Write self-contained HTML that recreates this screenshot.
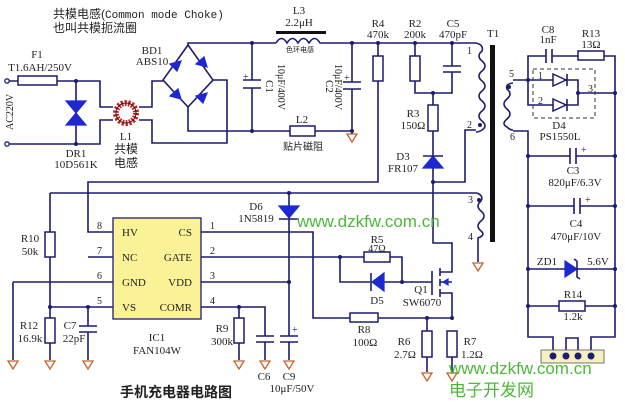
<!DOCTYPE html>
<html><head><meta charset="utf-8"><style>
html,body{margin:0;padding:0;background:#fff;}
svg{display:block;}
text{font-family:"Liberation Serif","Noto Serif CJK SC",serif;font-size:11px;fill:#222;}
.cj{font-family:"Liberation Sans","Noto Sans CJK SC",sans-serif;}
.w{stroke:#1c1c70;stroke-width:1.6;fill:none;}
.r{stroke:#1c1c70;stroke-width:1.5;fill:#fff;}
.d{fill:#1e28d0;stroke:#1e28d0;stroke-width:1.2;}
.g{fill:none;stroke:#c8602a;stroke-width:1.3;}
.j{fill:#1c1c70;}
.wm{font-family:"Liberation Sans","Noto Sans CJK SC",sans-serif;fill:#4cb83a;}
</style></head><body>
<svg width="625" height="406" viewBox="0 0 625 406" xmlns="http://www.w3.org/2000/svg">
<defs>
<g id="gnd"><path class="g" d="M-5,0 L5,0 L0,8 Z"/></g>
</defs>
<text x="53" y="18" class="cj" style="font-size:12px">共模电感(<tspan style="font-family:'Liberation Mono',monospace;font-size:11px">Common mode Choke)</tspan></text>
<text x="53" y="32" class="cj" style="font-size:12px">也叫共模扼流圈</text>

<circle cx="7" cy="81" r="2.2" fill="#fff" stroke="#1c1c70" stroke-width="1.3"/>
<circle cx="7" cy="144" r="2.2" fill="#fff" stroke="#1c1c70" stroke-width="1.3"/>
<text transform="translate(13,130) rotate(-90)" style="font-size:10px">AC220V</text>
<path class="w" d="M9,81 H18 M57,81 H100 V107 H113 M9,144 H100 V120 H113"/>
<rect class="r" x="18" y="76" width="39" height="9"/>
<text x="37" y="58" text-anchor="middle">F1</text>
<text x="40" y="71" text-anchor="middle">T1.6AH/250V</text>
<circle class="j" cx="76" cy="81" r="2"/><circle class="j" cx="76" cy="144" r="2"/>
<path class="w" d="M76,81 V144"/>
<path class="d" d="M66,101 H86 L76,113 Z M66,125 H86 L76,113 Z"/>
<text x="76" y="157" text-anchor="middle">DR1</text>
<text x="76" y="168" text-anchor="middle">10D561K</text>
<circle cx="126" cy="113" r="10" fill="none" stroke="#c02020" stroke-width="6" stroke-dasharray="2 1.5"/>
<circle cx="126" cy="113" r="10" fill="none" stroke="#501010" stroke-width="1"/>
<text x="126" y="140" text-anchor="middle">L1</text>
<text x="126" y="153" class="cj" text-anchor="middle" style="font-size:12px">共模</text>
<text x="126" y="167" class="cj" text-anchor="middle" style="font-size:12px">电感</text>
<path class="w" d="M139,107 H152 V81 H163 M139,120 H152 V143 H227 V80 H213"/>
<path class="w" d="M188,45 L163,80 L188,107 L213,80 Z"/>
<path class="d" d="M170,64 l11,-3 l-4,10 Z M196,64 l11,3 l-3,-10 Z M170,96 l11,3 l-3,-10 Z M196,96 l11,-3 l-4,10 Z"/>
<text x="152" y="54" text-anchor="middle">BD1</text>
<text x="152" y="65" text-anchor="middle">ABS10</text>
<path class="w" d="M188,45 V43 H276 M188,107 V131 H290"/>
<circle class="j" cx="252" cy="43" r="2"/><circle class="j" cx="252" cy="131" r="2"/>
<path class="w" d="M252,43 V80 M252,88 V131"/>
<path class="w" d="M243,80 H261 M243,88 H261"/>
<text x="243" y="80" style="font-size:10px;fill:#1c1c70">+</text>
<text transform="translate(266,80) rotate(90)">C1</text>
<text transform="translate(278,64) rotate(90)" style="font-size:10px">10μF/400V</text>
<rect x="276" y="31" width="50" height="3" fill="#111"/>
<path class="w" d="M276,43 q5.5,-9 11,0 q5.5,-9 11,0 q5.5,-9 11,0 q5.5,-9 11,0 H327"/>
<text x="299" y="14" text-anchor="middle">L3</text>
<text x="299" y="26" text-anchor="middle">2.2μH</text>
<text x="300" y="52" class="cj" text-anchor="middle" style="font-size:7px">色环电感</text>
<rect class="r" x="290" y="126" width="25" height="10"/>
<text x="302" y="123" text-anchor="middle">L2</text>
<text x="303" y="150" class="cj" text-anchor="middle" style="font-size:10px">贴片磁阻</text>
<path class="w" d="M315,131 H352 M327,43 H476"/>
<circle class="j" cx="352" cy="43" r="2"/><circle class="j" cx="378" cy="43" r="2"/><circle class="j" cx="415" cy="43" r="2"/><circle class="j" cx="452" cy="43" r="2"/><circle class="j" cx="352" cy="131" r="2"/>
<path class="w" d="M352,43 V82 M352,89 V134 M343,82 H361 M343,89 H361"/>
<text x="344" y="81" style="font-size:10px;fill:#1c1c70">+</text>
<use href="#gnd" x="352" y="134"/>
<text transform="translate(326,80) rotate(90)">C2</text>
<text transform="translate(335,64) rotate(90)" style="font-size:10px">10μF/400V</text>
<path class="w" d="M378,43 V56 M378,81 V182 H88 V232 H113"/>
<rect class="r" x="373" y="56" width="10" height="25"/>
<text x="378" y="27" text-anchor="middle">R4</text>
<text x="378" y="38" text-anchor="middle">470k</text>
<path class="w" d="M415,43 V56 M415,81 V93 H452 V72 M452,66 V43 M433,93 V105 M433,131 V182 H465 V130 H476"/>
<rect class="r" x="410" y="56" width="10" height="25"/>
<path class="w" d="M443,66 H461 M443,72 H461"/>
<circle class="j" cx="433" cy="93" r="2"/>
<rect class="r" x="428" y="105" width="10" height="26"/>
<text x="415" y="27" text-anchor="middle">R2</text>
<text x="415" y="38" text-anchor="middle">200k</text>
<text x="453" y="27" text-anchor="middle">C5</text>
<text x="453" y="38" text-anchor="middle">470pF</text>
<text x="413" y="117" text-anchor="middle">R3</text>
<text x="413" y="129" text-anchor="middle">150Ω</text>
<path class="d" d="M423,168 H443 L433,156 Z"/><path class="w" d="M423,156 H443"/>
<text x="403" y="160" text-anchor="middle">D3</text>
<text x="403" y="172" text-anchor="middle">FR107</text>
<circle class="j" cx="433" cy="182" r="2"/>
<path class="w" d="M476,43 q8,2 6,8 q-6,5 0,10 q6,5 0,10 q-6,5 0,10 q6,5 0,10 q-6,5 0,10 q6,5 0,10 q-6,5 0,10 q6,5 0,9 q-3,2 -6,2"/>
<circle class="j" cx="480" cy="125" r="2"/>
<text x="467" y="54" style="font-size:10px">1</text>
<text x="467" y="128" style="font-size:10px">2</text>
<rect x="490" y="45" width="5" height="197" fill="#111"/>
<text x="487" y="37">T1</text>
<path class="w" d="M513,83 q-8,1 -6,6 q6,5 0,10 q-6,5 0,10 q6,5 0,10 q-6,5 0,8 q3,3 6,3"/>
<circle class="j" cx="509" cy="87" r="2"/>
<text x="509" y="77" style="font-size:10px">5</text>
<text x="510" y="140" style="font-size:10px">6</text>
<path class="w" d="M513,80 H528 V105 H578 V80 H528 M528,80 V56 H546 M552,56 H578 M604,56 H615 V337 H591 V350 M578,93 H615 M513,131 H528 V337 H553 V350 M566,350 V338 H578 V350"/>
<path class="w" d="M546,49 V63 M552,49 V63"/>
<rect class="r" x="578" y="51" width="26" height="9"/>
<rect x="533" y="69" width="62" height="49" fill="none" stroke="#333" stroke-width="1" stroke-dasharray="4 3"/>
<path d="M553,74 V86 L566,80 Z M553,99 V111 L566,105 Z" fill="#fff" stroke="#1c1c70" stroke-width="1.5"/>
<path class="w" d="M567,74 V86 M567,99 V111"/>
<circle class="j" cx="528" cy="80" r="2"/><circle class="j" cx="578" cy="93" r="2"/><circle class="j" cx="615" cy="93" r="2"/>
<text x="538" y="79" style="font-size:10px">1</text><text x="538" y="104" style="font-size:10px">2</text><text x="588" y="92" style="font-size:10px">3</text>
<text x="548" y="33" text-anchor="middle">C8</text><text x="548" y="43" text-anchor="middle">1nF</text>
<text x="591" y="37" text-anchor="middle">R13</text><text x="591" y="48" text-anchor="middle">13Ω</text>
<text x="559" y="129" text-anchor="middle">D4</text><text x="560" y="140" text-anchor="middle">PS1550L</text>
<path class="w" d="M528,156 H570 M576,156 H615 M570,148 V164 M576,148 V164 M528,206 H574 M580,206 H615 M574,198 V214 M580,198 V214 M528,269 H615 M528,306 H559 M585,306 H615"/>
<text x="581" y="153" style="font-size:10px;fill:#1c1c70">+</text>
<text x="585" y="203" style="font-size:10px;fill:#1c1c70">+</text>
<circle class="j" cx="528" cy="156" r="2"/><circle class="j" cx="615" cy="156" r="2"/>
<circle class="j" cx="528" cy="206" r="2"/><circle class="j" cx="615" cy="206" r="2"/>
<circle class="j" cx="528" cy="269" r="2"/><circle class="j" cx="615" cy="269" r="2"/>
<circle class="j" cx="528" cy="306" r="2"/><circle class="j" cx="615" cy="306" r="2"/>
<text x="573" y="174" text-anchor="middle">C3</text><text x="575" y="186" text-anchor="middle">820μF/6.3V</text>
<text x="576" y="227" text-anchor="middle">C4</text><text x="576" y="240" text-anchor="middle">470μF/10V</text>
<path class="d" d="M565,261 V277 L577,269 Z"/><path class="w" d="M577,261 V277 l3,2 M577,261 l-3,-2"/>
<text x="547" y="265" text-anchor="middle">ZD1</text><text x="598" y="265" text-anchor="middle">5.6V</text>
<rect class="r" x="559" y="301" width="26" height="10"/>
<text x="573" y="298" text-anchor="middle">R14</text><text x="573" y="320" text-anchor="middle">1.2k</text>
<rect x="541" y="350" width="63" height="13" fill="#f6f0c0" stroke="#555" stroke-width="0.8"/>
<circle class="j" cx="553" cy="356" r="3.5"/><circle class="j" cx="566" cy="356" r="3.5"/><circle class="j" cx="578" cy="356" r="3.5"/><circle class="j" cx="591" cy="356" r="3.5"/>
<path class="w" d="M50,193 H477 M50,193 V232 M50,257 V318 M50,343 V360 M50,307 H113 M88,307 V326 M88,332 V360 M13,282 H113 M13,282 V360 M88,257 H113"/>
<circle class="j" cx="289" cy="193" r="2"/>
<rect class="r" x="45" y="232" width="10" height="25"/>
<rect class="r" x="45" y="318" width="10" height="25"/>
<path class="w" d="M79,326 H97 M79,332 H97"/>
<circle class="j" cx="50" cy="307" r="2"/><circle class="j" cx="88" cy="307" r="2"/>
<use href="#gnd" x="13" y="361"/><use href="#gnd" x="50" y="361"/><use href="#gnd" x="88" y="361"/>
<text x="30" y="242" text-anchor="middle">R10</text><text x="30" y="255" text-anchor="middle">50k</text>
<text x="29" y="329" text-anchor="middle">R12</text><text x="30" y="342" text-anchor="middle">16.9k</text>
<text x="70" y="329" text-anchor="middle">C7</text><text x="74" y="342" text-anchor="middle">22pF</text>
<rect x="113" y="218" width="88" height="101" fill="#fbf196" stroke="#1c1c70" stroke-width="1.3"/>
<text x="122" y="236">HV</text><text x="122" y="261">NC</text><text x="122" y="286">GND</text><text x="122" y="311">VS</text>
<text x="192" y="236" text-anchor="end">CS</text><text x="192" y="261" text-anchor="end">GATE</text><text x="192" y="286" text-anchor="end">VDD</text><text x="192" y="311" text-anchor="end">COMR</text>
<text x="97" y="229" style="font-size:10px">8</text><text x="97" y="254" style="font-size:10px">7</text><text x="97" y="279" style="font-size:10px">6</text><text x="97" y="304" style="font-size:10px">5</text>
<text x="210" y="229" style="font-size:10px">1</text><text x="210" y="254" style="font-size:10px">2</text><text x="210" y="279" style="font-size:10px">3</text><text x="210" y="304" style="font-size:10px">4</text>
<text x="157" y="341" text-anchor="middle">IC1</text><text x="157" y="354" text-anchor="middle">FAN104W</text>
<text x="120" y="397" class="cj" style="font-size:14px;font-weight:bold">手机充电器电路图</text>
<path class="w" d="M201,307 H265 V336 M265,342 V360 M239,307 V318 M239,343 V360 M201,282 H289 M289,193 V336 M289,342 V360"/>
<circle class="j" cx="239" cy="307" r="2"/><circle class="j" cx="289" cy="282" r="2"/>
<rect class="r" x="234" y="318" width="10" height="25"/>
<path class="w" d="M256,336 H274 M256,342 H274 M280,336 H298 M280,342 H298"/>
<text x="292" y="333" style="font-size:10px;fill:#1c1c70">+</text>
<use href="#gnd" x="239" y="361"/><use href="#gnd" x="265" y="361"/><use href="#gnd" x="289" y="361"/>
<text x="222" y="332" text-anchor="middle">R9</text><text x="222" y="345" text-anchor="middle">300k</text>
<text x="264" y="380" text-anchor="middle">C6</text><text x="289" y="380" text-anchor="middle">C9</text>
<text x="292" y="392" text-anchor="middle">10μF/50V</text>
<path class="d" d="M279,206 H299 L289,218 Z"/><path class="w" d="M279,219 H299"/>
<text x="256" y="210" text-anchor="middle">D6</text><text x="256" y="222" text-anchor="middle">1N5819</text>
<path class="w" d="M201,232 H313 V318 H350 M378,318 H452 M427,318 V331 M427,357 V372 M452,357 V372"/>
<rect class="r" x="350" y="313" width="28" height="9"/>
<circle class="j" cx="427" cy="318" r="2"/><circle class="j" cx="452" cy="318" r="2"/>
<rect class="r" x="422" y="331" width="10" height="26"/>
<rect class="r" x="447" y="331" width="10" height="26"/>
<use href="#gnd" x="427" y="373"/><use href="#gnd" x="452" y="373"/>
<text x="364" y="333" text-anchor="middle">R8</text><text x="365" y="346" text-anchor="middle">100Ω</text>
<text x="404" y="345" text-anchor="middle">R6</text><text x="405" y="358" text-anchor="middle">2.7Ω</text>
<text x="470" y="345" text-anchor="middle">R7</text><text x="472" y="358" text-anchor="middle">1.2Ω</text>
<path class="w" d="M201,257 H364 M390,257 H402 V282 M340,257 V282 H370 M384,282 H432 M432,271 V295"/>
<circle class="j" cx="340" cy="257" r="2"/><circle class="j" cx="402" cy="282" r="2"/>
<rect class="r" x="364" y="252" width="26" height="10"/>
<path class="d" d="M384,273 V291 L372,282 Z"/><path class="w" d="M371,273 V291"/>
<text x="377" y="243" text-anchor="middle">R5</text><text x="377" y="252" text-anchor="middle" style="font-size:10px">47Ω</text>
<text x="377" y="304" text-anchor="middle">D5</text>
<text x="421" y="293" text-anchor="middle">Q1</text><text x="422" y="306" text-anchor="middle">SW6070</text>
<path class="w" d="M433,182 V243 H452 V272 H440 M440,268 V276 M440,279 V286 M440,289 V297 M440,282 H452 M440,293 H452 V318"/>
<path class="d" d="M443,282 l5,-3 v6 Z"/>
<path class="w" d="M477,193 q7,3 4,8 q-6,5 0,10 q6,5 0,10 q-6,5 0,10 q5,4 -3,7 V262"/>
<circle class="j" cx="479" cy="200" r="2"/>
<text x="468" y="203" style="font-size:10px">3</text><text x="468" y="240" style="font-size:10px">4</text>
<use href="#gnd" x="478" y="263"/>
<text x="297" y="227" class="wm" style="font-size:17px">www.dzkfw.com.cn</text>
<text x="449" y="374" class="wm" style="font-size:17px">www.dzkfw.com.cn</text>
<text x="449" y="396" class="wm" style="font-size:17px">电子开发网</text>
</svg>
</body></html>
